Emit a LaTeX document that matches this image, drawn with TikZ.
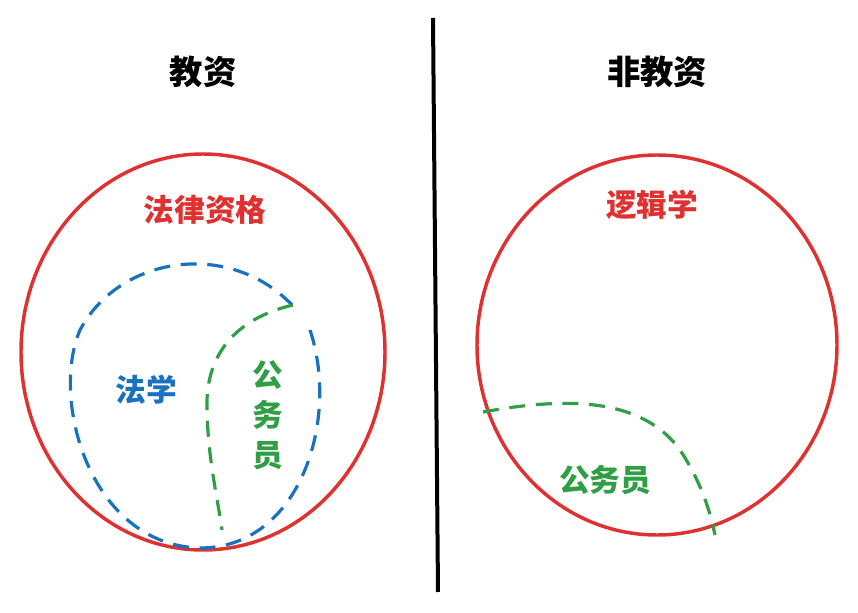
\documentclass[tikz,border=0pt]{standalone}
\usepackage{fontspec}
\setmainfont{Noto Sans CJK SC}
\definecolor{rd}{HTML}{E03131}
\definecolor{bl}{HTML}{1971C2}
\definecolor{gr}{HTML}{2F9E44}
\begin{document}
\begin{tikzpicture}[x=0.75pt,y=-0.75pt,
  lab/.style={font=\fontsize{23}{30}\selectfont\bfseries},
  ttl/.style={font=\fontsize{25}{28}\selectfont\bfseries}]
\useasboundingbox (0,0) rectangle (858,613);
\node[ttl] (t1) at (203,72) {教资};
\node[ttl] (t2) at (657,72) {非教资};
\draw[line width=3pt] (433,18) -- (438,592);
\draw[rd,line width=2.6pt] (203,352) ellipse [x radius=182, y radius=198];
\draw[rd,line width=2.6pt] (657,345) ellipse [x radius=180, y radius=190];
\node[lab,rd] (a) at (205,210) {法律资格};
\node[lab,rd] (b) at (652,205) {逻辑学};
\draw[bl,line width=2.4pt,dash pattern=on 12pt off 8pt]
  (292,305) .. controls (230,240) and (120,255) .. (80,330)
  .. controls (50,400) and (90,545) .. (200,548)
  .. controls (300,548) and (340,420) .. (310,330);
\node[lab,bl] (c) at (146,390) {法学};
\draw[gr,line width=2.4pt,dash pattern=on 12pt off 8pt]
  (293,305) .. controls (230,320) and (205,360) .. (207,410)
  .. controls (208,460) and (218,500) .. (222,530);
\node[lab,gr,align=center] (d) at (268,415) {公\\务\\员};
\draw[gr,line width=2.4pt,dash pattern=on 12pt off 8pt]
  (483,412) .. controls (560,398) and (640,395) .. (680,450)
  .. controls (700,480) and (710,510) .. (715,535);
\node[lab,gr] (e) at (605,480) {公务员};
\end{tikzpicture}
\end{document}
